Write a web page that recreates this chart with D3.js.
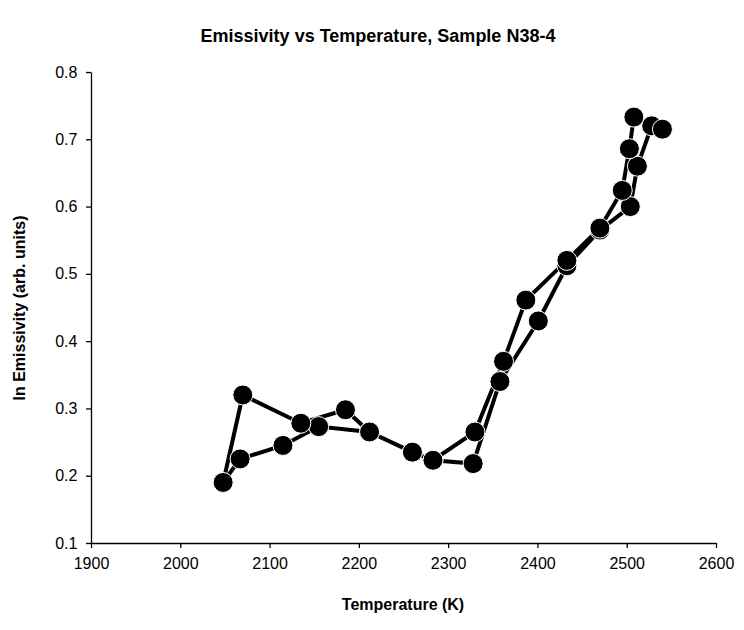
<!DOCTYPE html>
<html><head><meta charset="utf-8">
<script src="https://cdn.jsdelivr.net/npm/d3@7"></script>
<style>body{margin:0;background:#fff}text{font-family:Arial,"Liberation Sans",sans-serif}</style>
</head><body><div id="chart"></div>
<script>
var temps = [2070, 2048, 2067, 2115, 2155, 2212, 2260, 2283, 2328, 2358, 2401, 2433, 2470, 2504, 2512, 2528, 2540,
             2508, 2503, 2495, 2470, 2433, 2387, 2362, 2330, 2283, 2260, 2212, 2185, 2135];
var emis  = [0.32, 0.19, 0.225, 0.245, 0.273, 0.265, 0.235, 0.223, 0.218, 0.34, 0.43, 0.512, 0.565, 0.60, 0.66, 0.72, 0.715,
             0.733, 0.686, 0.624, 0.568, 0.52, 0.461, 0.37, 0.265, 0.223, 0.235, 0.265, 0.298, 0.278];
var xTicks = [1900, 2000, 2100, 2200, 2300, 2400, 2500, 2600];
var yTicks = [0.1, 0.2, 0.3, 0.4, 0.5, 0.6, 0.7, 0.8];

var W = 744, H = 630, mLeft = 91, mRight = 716, mTop = 72, mBottom = 543;
var svg = d3.select('#chart').append('svg').attr('width', W).attr('height', H);
var x = d3.scaleLinear().domain([1900, 2600]).range([mLeft, mRight]);
var y = d3.scaleLinear().domain([0.1, 0.8]).range([mBottom, mTop]);
var data = temps.map(function (t, i) { return [t, emis[i]]; });

var xa = svg.append('g').attr('transform', 'translate(0,' + mBottom + ')')
  .call(d3.axisBottom(x).tickValues(xTicks).tickFormat(d3.format('d')).tickSize(5).tickSizeOuter(0));
var ya = svg.append('g').attr('transform', 'translate(' + mLeft + ',0)')
  .call(d3.axisLeft(y).tickValues(yTicks).tickFormat(d3.format('.1f')).tickSize(5).tickSizeOuter(0));
[xa, ya].forEach(function (a) {
  a.selectAll('path,line').attr('stroke', '#000').attr('stroke-width', 1.3);
  a.selectAll('text').attr('font-size', 16).attr('fill', '#000');
});
xa.selectAll('text').attr('dy', '1.1em');
ya.selectAll('text').attr('dx', '-0.35em');

svg.append('path').datum(data)
  .attr('d', d3.line().x(function (d) { return x(d[0]); }).y(function (d) { return y(d[1]); }).curve(d3.curveLinearClosed))
  .attr('fill', 'none').attr('stroke', '#000').attr('stroke-width', 4);
svg.selectAll('circle').data(data).enter().append('circle')
  .attr('cx', function (d) { return x(d[0]); }).attr('cy', function (d) { return y(d[1]); })
  .attr('r', 10).attr('fill', '#000').attr('stroke', '#fff').attr('stroke-width', 1);

svg.append('text').attr('x', 378).attr('y', 42).attr('text-anchor', 'middle')
  .attr('font-size', 18).attr('font-weight', 'bold').text('Emissivity vs Temperature, Sample N38-4');
svg.append('text').attr('x', 403).attr('y', 610).attr('text-anchor', 'middle')
  .attr('font-size', 16).attr('font-weight', 'bold').text('Temperature (K)');
svg.append('text').attr('transform', 'translate(25,308) rotate(-90)').attr('text-anchor', 'middle')
  .attr('font-size', 16).attr('font-weight', 'bold').text('ln Emissivity (arb. units)');
</script></body></html>
